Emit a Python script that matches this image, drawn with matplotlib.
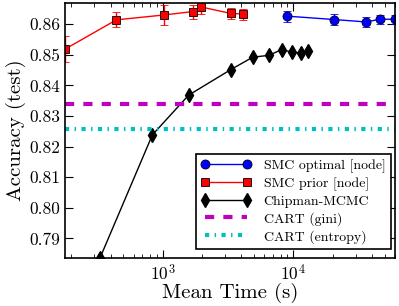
import numpy as np, matplotlib
matplotlib.use("Agg")
import matplotlib.pyplot as plt
from matplotlib.lines import Line2D

plt.rcParams["font.family"] = "serif"
plt.rcParams["font.serif"] = ["cmr10", "DejaVu Serif"]
plt.rcParams["mathtext.fontset"] = "cm"
plt.rcParams["axes.unicode_minus"] = False
plt.rcParams["axes.formatter.use_mathtext"] = True

# SMC optimal [node]
opt_t = [8990, 20600, 36200, 46100, 60000, 75000]
opt_acc = [0.8626, 0.8615, 0.8607, 0.8616, 0.8616, 0.8616]
opt_err = [0.0018, 0.0017, 0.0015, 0.0014, 0.0014, 0.0014]

# SMC prior [node]
pri_t = [180, 442, 1030, 1697, 1970, 3314, 4100]
pri_acc = [0.8519, 0.8614, 0.8630, 0.8641, 0.8656, 0.8635, 0.8633]
pri_err = [0.0043, 0.0025, 0.0034, 0.0023, 0.0022, 0.0018, 0.0018]

# Chipman-MCMC
mc_t = [331, 833, 1580, 3310, 4890, 6520, 8150, 9820, 11460, 13030]
mc_acc = [0.7836, 0.8238, 0.8368, 0.8451, 0.8492, 0.8498, 0.8517, 0.8508, 0.8506, 0.8513]

cart_gini = 0.8339
cart_entropy = 0.8259

labels = ["SMC optimal [node]", "SMC prior [node]", "Chipman-MCMC",
          "CART (gini)", "CART (entropy)"]

fig = plt.figure(figsize=(3.99, 3.06), dpi=100)
ax = fig.add_axes([65/399, 48/306, 330/399, 255/306])

opt_style = dict(color="b", marker="o", ms=6.5, mec="k", mew=0.6, lw=1)
pri_style = dict(color="r", marker="s", ms=6, mec="k", mew=0.6, lw=1)
mc_style = dict(color="k", marker="d", ms=7, lw=1)
gini_style = dict(color="m", ls=(0, (2.2, 2.2)), lw=3)
ent_style = dict(color="c", ls=(0, (1, 1.3, 0.35, 1.3)), lw=3)

ax.errorbar(opt_t, opt_acc, yerr=opt_err, capsize=3, ecolor="b", **opt_style)
ax.errorbar(pri_t, pri_acc, yerr=pri_err, capsize=3, ecolor="r", **pri_style)
ax.plot(mc_t, mc_acc, **mc_style)
ax.axhline(cart_gini, **gini_style)
ax.axhline(cart_entropy, **ent_style)

ax.set_xscale("log")
ax.set_xlim(178.6, 60100)
ax.set_ylim(0.7836, 0.8669)
ax.set_yticks([0.79, 0.80, 0.81, 0.82, 0.83, 0.84, 0.85, 0.86])
ax.set_yticklabels(["0.79", "0.80", "0.81", "0.82", "0.83", "0.84", "0.85", "0.86"])
ax.tick_params(which="both", direction="in", top=True, right=True, labelsize=12.5)
ax.tick_params(which="major", length=6)
ax.tick_params(which="minor", length=3)
for s in ax.spines.values():
    s.set_linewidth(1.2)

ax.set_xlabel("Mean Time (s)", fontsize=15, labelpad=0)
ax.set_ylabel("Accuracy (test)", fontsize=15, labelpad=2)

handles = [Line2D([], [], **opt_style), Line2D([], [], **pri_style),
           Line2D([], [], **mc_style), Line2D([], [], **gini_style),
           Line2D([], [], **ent_style)]
leg = ax.legend(handles, labels, numpoints=2,
                loc="lower right", bbox_to_anchor=(0.988, 0.035), borderaxespad=0,
                fontsize=10, fancybox=False, framealpha=1, edgecolor="k",
                handlelength=3.6, handletextpad=0.9, labelspacing=0.3,
                borderpad=0.4)
leg.get_frame().set_linewidth(1.2)

fig.savefig("out.png", dpi=100)
